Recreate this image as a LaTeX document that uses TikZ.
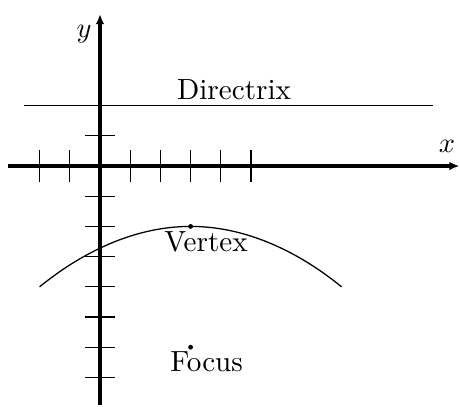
\documentclass[tikz,border=0pt]{standalone}
\usetikzlibrary{arrows.meta}
\begin{document}
\begin{tikzpicture}[x=0.375cm,y=0.375cm,
  axis/.style={line width=1.15pt,-{Latex[length=3.5pt,width=3pt]}},
  tick/.style={line width=0.4pt},
  thin curve/.style={line width=0.45pt},
  lbl/.style={inner sep=0pt,anchor=base,font=\fontsize{10.3}{12}\selectfont},
  pt/.style={circle,fill=black,inner sep=0pt,minimum size=1.7pt}]
\useasboundingbox (-3.311,-7.947) rectangle (11.921,5.497);
% axes
\coordinate (xs) at (-3.05,0);
\coordinate (xe) at (11.9,0);
\coordinate (ys) at (0,-7.9);
\coordinate (ye) at (0,5.03);
\draw[axis] (xs) -- (xe);
\draw[axis] (ys) -- (ye);
% ticks on x axis
\foreach \i in {-2,-1,1,2,3,4,5}
  \draw[tick] (\i,-0.53) -- (\i,0.53);
% ticks on y axis
\foreach \j in {1,-1,-2,-3,-4,-5,-6,-7}
  \draw[tick] (-0.5,\j) -- (0.5,\j);
% directrix
\coordinate (d1) at (-2.52,2);
\coordinate (d2) at (11.03,2);
\draw[thin curve] (d1) -- (d2);
\node[lbl] (dir) at (4.44,2.19) {Directrix};
% parabola
\coordinate (pl) at (-2,-4);
\coordinate (pr) at (8,-4);
\node[pt] (V) at (3,-2) {};
\node[pt] (F) at (3,-6) {};
\draw[thin curve] (pl) parabola bend (V.center) (pr);
\node[lbl] (vlab) at (3.51,-2.84) {Vertex};
\node[lbl] (flab) at (3.53,-6.81) {Focus};
% axis labels
\node[lbl] (xl) at (11.49,0.46) {$x$};
\node[lbl] (yl) at (-0.53,4.24) {$y$};
\end{tikzpicture}
\end{document}
